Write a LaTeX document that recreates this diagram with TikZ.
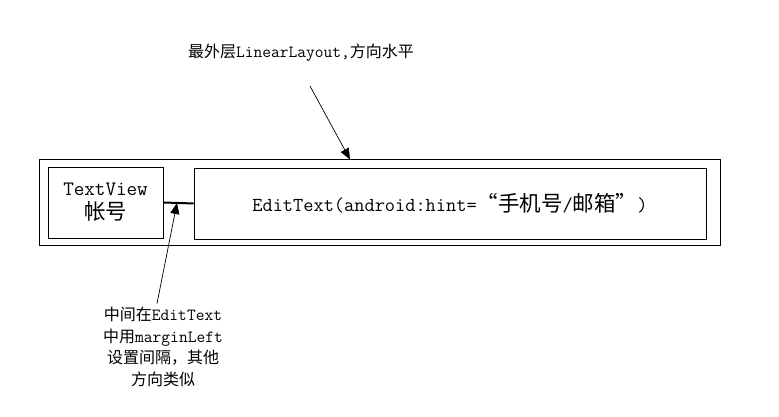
\documentclass[tikz,border=0pt]{standalone}
\usepackage{fontspec}
\newfontfamily\cjk{Noto Sans CJK SC}
\usetikzlibrary{arrows.meta,calc}

\newcommand{\bighz}{\cjk\fontsize{21.5}{24}\selectfont}
\newcommand{\smallhz}{\cjk\fontsize{16}{20}\selectfont}

\tikzset{
  box/.style={draw,line width=0.8pt,inner sep=0pt},
  pointer/.style={line width=0.7pt,-{Triangle[length=11pt,width=9pt]}},
  bigfont/.style={font=\ttfamily\fontsize{19.8}{24}\selectfont},
  smallfont/.style={font=\ttfamily\fontsize{17}{21.7}\selectfont},
}

\begin{document}
\begin{tikzpicture}[x=1pt,y=-1pt]
            \useasboundingbox (0,0) rectangle (779,417);

            \node (outer) at (379.5,202.5) [box,line width=1pt,minimum width=681pt,minimum height=85pt] {};
            \node (tv) at (105.5,202.5) [box,minimum width=115pt,minimum height=71pt,align=center,font=\ttfamily\fontsize{20.5}{24}\selectfont] {TextView\\{\bighz 帐号}};
            \node (et) at (450,203.5) [box,minimum width=512pt,minimum height=71pt,bigfont] {EditText(android:hint={\bighz\addfontfeature{CharacterWidth=Full}“}{\bighz 手机号}/{\bighz 邮箱}{\bighz\addfontfeature{CharacterWidth=Full}”})};

            \node (title) at (301,53) [smallfont] {{\smallhz 最外层}LinearLayout,{\smallhz 方向水平}};
            \node (note) at (163,347) [align=center,smallfont] {{\smallhz 中间在}EditText\\{\smallhz 中用}marginLeft\\{\smallhz 设置间隔，其他}\\{\smallhz 方向类似}};

            \coordinate (start) at (310,86);
            \coordinate (gap) at ($(tv.east)!0.45!(et.west)$);

            \draw[line width=2pt] (tv.east) -- (et.west);
            \draw[pointer] (start) -- ([xshift=-29.5pt]outer.north);
            \draw[pointer] ([xshift=-6pt]note.north) -- (gap);

        \end{tikzpicture}
\end{document}
